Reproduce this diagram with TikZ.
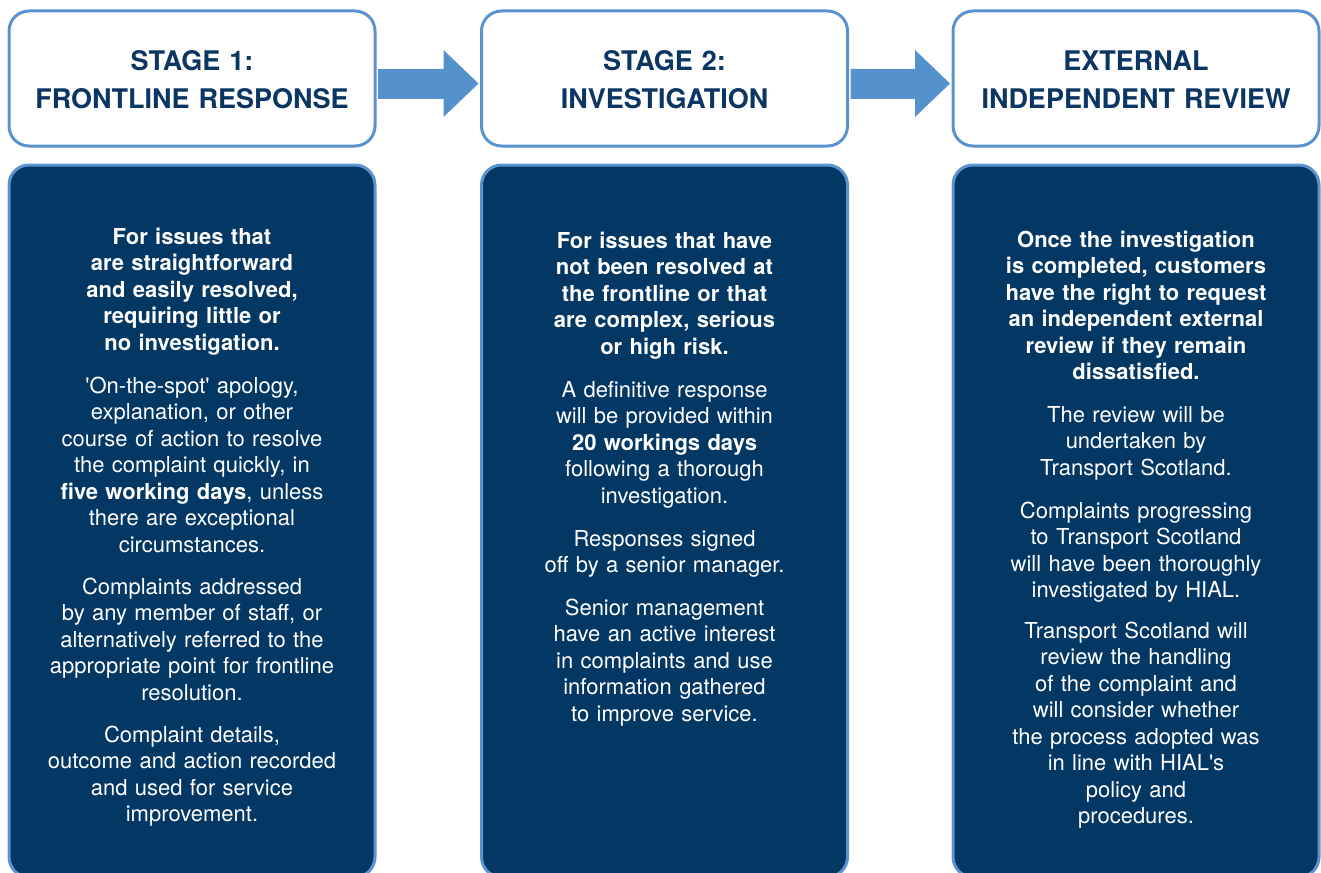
\documentclass[tikz,border=0pt]{standalone}
\usepackage{fontspec}
\setmainfont{TeX Gyre Heros}
\usetikzlibrary{calc}
\definecolor{navy}{HTML}{033764}
\definecolor{lblue}{HTML}{5B93CF}
\definecolor{arrowblue}{HTML}{5591CD}
\definecolor{hdrcol}{HTML}{0B3562}
\begin{document}
\begin{tikzpicture}[x=1pt,y=-1pt,
  hdrbox/.style={draw=lblue, line width=3pt, fill=white, rounded corners=20pt, minimum width=366pt, minimum height=135pt, inner sep=0pt},
  bodybox/.style={draw=lblue, line width=3pt, fill=navy, rounded corners=20pt, minimum width=366pt, minimum height=712pt, inner sep=0pt},
  hdrtext/.style={text=hdrcol, font=\fontsize{27}{38}\selectfont\bfseries, align=center, anchor=base, inner sep=0pt, text width=360pt},
  para/.style={text=white, font=\fontsize{22}{26.5}\selectfont, align=center, anchor=base, inner sep=0pt, text width=360pt},
  boldpara/.style={para, font=\fontsize{22}{26.5}\selectfont\bfseries},
  blockarrow/.style={fill=arrowblue, draw=none}]
\useasboundingbox (0,0) rectangle (1321,872);
% header boxes
\node[hdrbox] (h1) at (192,78.5) {};
\node[hdrbox] (h2) at (664.5,78.5) {};
\node[hdrbox] (h3) at (1136,78.5) {};
% body boxes
\node[bodybox] (b1) at (192,521) {};
\node[bodybox] (b2) at (664.5,521) {};
\node[bodybox] (b3) at (1136,521) {};
% arrows
\path[blockarrow] ($(h1.east)+(1.5,-9.5)$) -- ($(h2.west)+(-36.5,-9.5)$) -- ($(h2.west)+(-36.5,-28.5)$) -- ($(h2.west)+(-1.5,5)$) -- ($(h2.west)+(-36.5,38.5)$) -- ($(h2.west)+(-36.5,20.5)$) -- ($(h1.east)+(1.5,20.5)$) -- cycle;
\path[blockarrow] ($(h2.east)+(1.5,-9.5)$) -- ($(h3.west)+(-36.5,-9.5)$) -- ($(h3.west)+(-36.5,-28.5)$) -- ($(h3.west)+(-1.5,5)$) -- ($(h3.west)+(-36.5,38.5)$) -- ($(h3.west)+(-36.5,20.5)$) -- ($(h2.east)+(1.5,20.5)$) -- cycle;
% header texts
\node[hdrtext] (t1) at (192,71) {STAGE 1:\\FRONTLINE RESPONSE};
\node[hdrtext] (t2) at (664.5,71) {STAGE 2:\\INVESTIGATION};
\node[hdrtext] (t3) at (1136,71) {EXTERNAL\\INDEPENDENT REVIEW};
% column 1
\node[boldpara] (p1a) at (192,244) {For issues that\\are straightforward\\and easily resolved,\\requiring little or\\no investigation.};
\node[para] (p1b) at (192,393) {\textquotesingle On-the-spot\textquotesingle{} apology,\\explanation, or other\\course of action to resolve\\the complaint quickly, in\\\textbf{five working days}, unless\\there are exceptional\\circumstances.};
\node[para] (p1c) at (192,594) {Complaints addressed\\by any member of staff, or\\alternatively referred to the\\appropriate point for frontline\\resolution.};
\node[para] (p1d) at (192,742) {Complaint details,\\outcome and action recorded\\and used for service\\improvement.};
% column 2
\node[boldpara] (p2a) at (664.5,248) {For issues that have\\not been resolved at\\the frontline or that\\are complex, serious\\or high risk.};
\node[para] (p2b) at (664.5,397) {A definitive response\\will be provided within\\\textbf{20 workings days}\\following a thorough\\investigation.};
\node[para] (p2c) at (664.5,546) {Responses signed\\off by a senior manager.};
\node[para] (p2d) at (664.5,615) {Senior management\\have an active interest\\in complaints and use\\information gathered\\to improve service.};
% column 3
\node[boldpara] (p3a) at (1136,247) {Once the investigation\\is completed, customers\\have the right to request\\an independent external\\review if they remain\\dissatisfied.};
\node[para] (p3b) at (1136,422) {The review will be\\undertaken by\\Transport Scotland.};
\node[para] (p3c) at (1136,518) {Complaints progressing\\to Transport Scotland\\will have been thoroughly\\investigated by HIAL.};
\node[para] (p3d) at (1136,638) {Transport Scotland will\\review the handling\\of the complaint and\\will consider whether\\the process adopted was\\in line with HIAL\textquotesingle s\\policy and\\procedures.};
\end{tikzpicture}
\end{document}
